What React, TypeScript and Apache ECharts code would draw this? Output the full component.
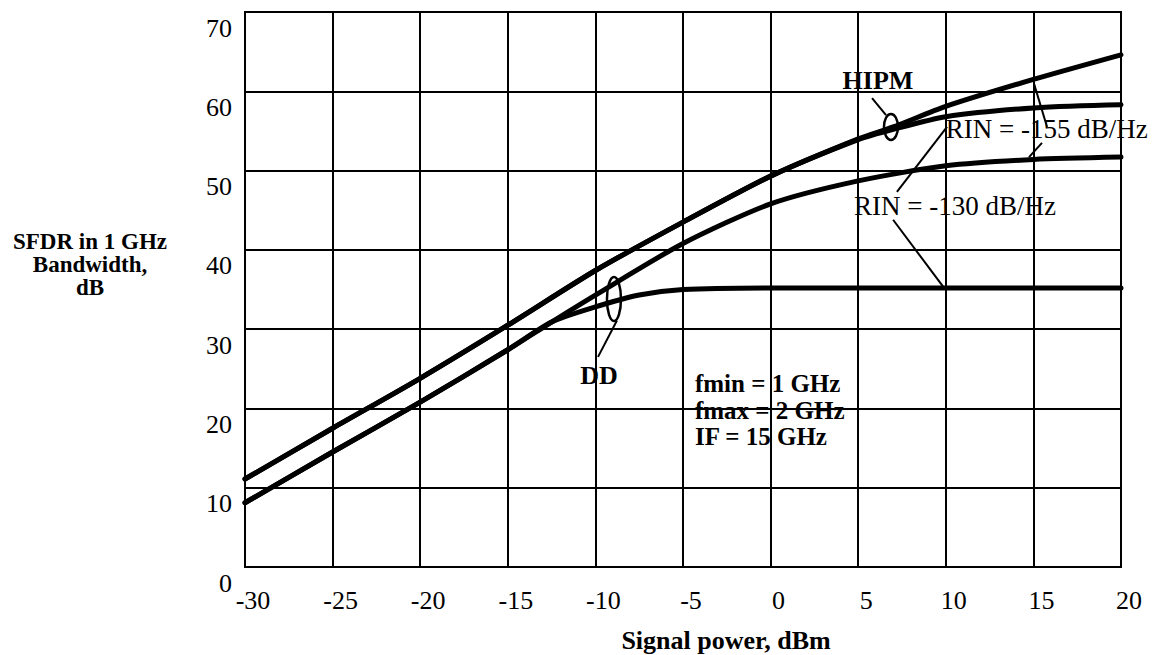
import React, { useEffect, useRef } from "react";
import * as echarts from "echarts";

// Signal power (dBm) and SFDR (dB)
const hipm155X = [-30, -25, -20, -15, -10, -5, 0, 5, 7, 10, 15, 20];
const hipm155Y = [11.1, 17.5, 23.8, 30.5, 37.4, 43.5, 49.3, 54.0, 55.5, 58.1, 61.5, 64.6];

const hipm130X = [-30, -25, -20, -15, -10, -5, 0, 5, 7, 10, 15, 20];
const hipm130Y = [11.1, 17.5, 23.8, 30.5, 37.4, 43.5, 49.3, 53.9, 55.2, 56.8, 57.9, 58.3];

const dd155X = [-30, -25, -20, -15, -12.5, -10, -5, 0, 5, 10, 15, 20];
const dd155Y = [8.1, 14.5, 20.8, 27.4, 30.9, 34.3, 40.8, 45.8, 48.7, 50.6, 51.4, 51.7];

const dd130X = [-30, -25, -20, -15, -12.5, -10, -7.5, -5, 0, 10, 20];
const dd130Y = [8.1, 14.5, 20.8, 27.4, 30.9, 32.8, 34.3, 35.0, 35.2, 35.2, 35.2];

const xMin = -30;
const xMax = 20;
const xStep = 5;
const yMin = 0;
const yMax = 70;
const yStep = 10;

const xTitle = "Signal power, dBm";
const yTitle = "SFDR in 1 GHz\nBandwidth,\ndB";
const noteLines = ["fmin = 1 GHz", "fmax = 2 GHz", "IF = 15 GHz"];

const FONT = "'Liberation Serif', 'Times New Roman', serif";

function pairs(xs: number[], ys: number[]) {
  return xs.map((x, i) => [x, ys[i]]);
}

export default function App() {
  const ref = useRef<HTMLDivElement>(null);

  useEffect(() => {
    if (!ref.current) return;
    const chart = echarts.init(ref.current, undefined, { renderer: "svg" });

    const lineSeries = (name: string, xs: number[], ys: number[]) => ({
      name,
      type: "line",
      data: pairs(xs, ys),
      smooth: 0.25,
      showSymbol: false,
      symbol: "none",
      lineStyle: { color: "#000", width: 5, cap: "round", join: "round" },
      silent: true,
    });

    chart.setOption({
      animation: false,
      backgroundColor: "#fff",
      grid: {
        left: 245,
        right: 36,
        top: 12,
        bottom: 88,
        show: true,
        borderColor: "#000",
        borderWidth: 2,
        backgroundColor: "transparent",
      },
      xAxis: {
        type: "value",
        min: xMin,
        max: xMax,
        interval: xStep,
        axisLine: { show: true, lineStyle: { color: "#000", width: 2 } },
        axisTick: { show: false },
        splitLine: { show: true, lineStyle: { color: "#000", width: 2 } },
        axisLabel: {
          color: "#000",
          fontFamily: FONT,
          fontSize: 26,
          margin: 20,
          padding: [0, 0, 0, 16],
        },
      },
      yAxis: {
        type: "value",
        min: yMin,
        max: yMax,
        interval: yStep,
        axisLine: { show: true, lineStyle: { color: "#000", width: 2 } },
        axisTick: { show: false },
        splitLine: { show: true, lineStyle: { color: "#000", width: 2 } },
        axisLabel: {
          color: "#000",
          fontFamily: FONT,
          fontSize: 26,
          margin: 13,
          verticalAlign: "top",
          padding: [3, 0, 0, 0],
        },
      },
      series: [
        lineSeries("HIPM, RIN = -155 dB/Hz", hipm155X, hipm155Y),
        lineSeries("HIPM, RIN = -130 dB/Hz", hipm130X, hipm130Y),
        lineSeries("DD, RIN = -155 dB/Hz", dd155X, dd155Y),
        lineSeries("DD, RIN = -130 dB/Hz", dd130X, dd130Y),
      ],
    });

    const p = (x: number, y: number) =>
      chart.convertToPixel({ gridIndex: 0 }, [x, y]) as number[];

    const seg = (a: number[], b: number[]) => {
      const A = p(a[0], a[1]);
      const B = p(b[0], b[1]);
      return {
        type: "line",
        shape: { x1: A[0], y1: A[1], x2: B[0], y2: B[1] },
        style: { stroke: "#000", lineWidth: 2 },
        silent: true,
      };
    };

    const oval = (c: number[], rx: number, ry: number) => {
      const C = p(c[0], c[1]);
      return {
        type: "ellipse",
        shape: { cx: C[0], cy: C[1], rx, ry },
        style: { fill: "none", stroke: "#000", lineWidth: 2.5 },
        silent: true,
      };
    };

    const label = (
      text: string,
      at: number[],
      align: string,
      size: number,
      weight: string
    ) => {
      const P = p(at[0], at[1]);
      return {
        type: "text",
        x: P[0],
        y: P[1],
        style: {
          text,
          fill: "#000",
          font: `${weight} ${size}px ${FONT}`,
          align,
          verticalAlign: "middle",
        },
        silent: true,
      };
    };

    const noteY = [23.1, 19.8, 16.5];

    chart.setOption({
      graphic: [
        // HIPM annotation
        label("HIPM", [6.13, 61.3], "center", 26, "bold"),
        seg([5.79, 59.14], [6.59, 57.0]),
        oval([6.87, 55.5], 7, 13),
        // RIN = -155
        label("RIN = -155 dB/Hz", [10.0, 55.2], "left", 27, "normal"),
        seg([15.03, 61.0], [15.78, 55.5]),
        seg([15.49, 53.5], [14.75, 51.7]),
        // RIN = -130
        label("RIN = -130 dB/Hz", [4.76, 45.5], "left", 27, "normal"),
        seg([7.21, 47.3], [10.07, 55.5]),
        seg([6.99, 43.8], [9.9, 35.2]),
        // DD annotation
        oval([-8.94, 33.8], 7, 22),
        seg([-8.77, 31.1], [-9.85, 26.5]),
        label("DD", [-9.79, 24.1], "center", 26, "bold"),
        // parameter notes
        ...noteLines.map((t, i) => label(t, [-4.32, noteY[i]], "left", 25, "bold")),
        // axis titles
        {
          type: "text",
          x: 726,
          y: 640,
          style: {
            text: xTitle,
            fill: "#000",
            font: `bold 26px ${FONT}`,
            align: "center",
            verticalAlign: "middle",
          },
          silent: true,
        },
        {
          type: "text",
          x: 90,
          y: 264,
          style: {
            text: yTitle,
            fill: "#000",
            font: `bold 23px ${FONT}`,
            lineHeight: 23,
            align: "center",
            verticalAlign: "middle",
          },
          silent: true,
        },
      ],
    });

    return () => chart.dispose();
  }, []);

  return (
    <div
      ref={ref}
      style={{
        position: "absolute",
        left: 0,
        top: 0,
        width: 1157,
        height: 655,
        background: "#fff",
      }}
    />
  );
}
